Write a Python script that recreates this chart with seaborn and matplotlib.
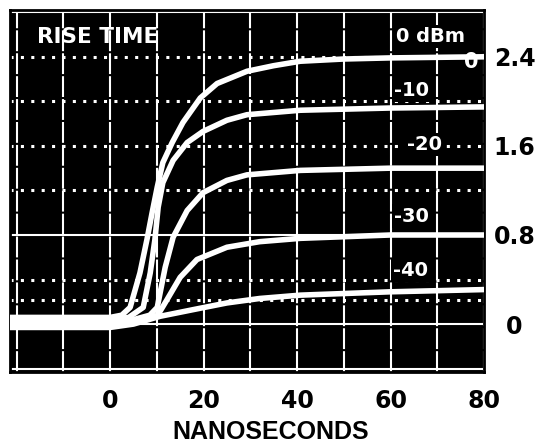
import numpy as np
import pandas as pd
import seaborn as sns
import matplotlib.pyplot as plt

t_0dbm = [-21.4, 0, 2.5, 4.3, 6.4, 7.9, 9.0, 10.1, 11.3, 13.3, 15.6, 19.3, 22.9, 29.3, 35, 40.7, 50, 60, 80]
v_0dbm = [0.06, 0.06, 0.08, 0.15, 0.46, 0.76, 1.00, 1.23, 1.45, 1.63, 1.81, 2.03, 2.16, 2.27, 2.32, 2.36, 2.38, 2.39, 2.40]

t_m10 = [-21.4, 0, 4, 7.1, 8.6, 9.6, 10.3, 11.3, 13.5, 16.5, 19.9, 25, 29.3, 35, 40.7, 60, 80]
v_m10 = [0.04, 0.04, 0.06, 0.15, 0.46, 0.76, 1.05, 1.27, 1.47, 1.63, 1.73, 1.83, 1.88, 1.90, 1.92, 1.94, 1.95]

t_m20 = [-21.4, 0, 5, 8.5, 10.1, 11.8, 13.5, 16.5, 19.9, 25, 29.3, 40.7, 60, 80]
v_m20 = [0.02, 0.02, 0.04, 0.08, 0.15, 0.51, 0.78, 1.02, 1.18, 1.29, 1.34, 1.38, 1.40, 1.40]

t_m30 = [-21.4, 0, 6, 10.2, 12.2, 15, 18.6, 25, 32, 40.7, 60, 80]
v_m30 = [0.0, 0.0, 0.02, 0.08, 0.22, 0.42, 0.58, 0.69, 0.74, 0.77, 0.80, 0.80]

t_m40 = [-21.4, 0, 5, 10.7, 17.8, 25, 32, 40.7, 60, 80]
v_m40 = [-0.03, -0.03, 0.0, 0.07, 0.13, 0.19, 0.23, 0.26, 0.29, 0.31]

niveis = ["0", "-10", "-20", "-30", "-40"]
ref_nivel = [0.22]

x_ticks = [0, 20, 40, 60, 80]
y_ticks = [0, 0.8, 1.6, 2.4]
y_ticklabels = ["0", "0.8", "1.6", "2.4"]

# Montar a tabela longa para o seaborn
series = [(t_0dbm, v_0dbm), (t_m10, v_m10), (t_m20, v_m20), (t_m30, v_m30), (t_m40, v_m40)]
frames = []
for nome, (t, v) in zip(niveis, series):
    frames.append(pd.DataFrame({"ns": t, "v": v, "nivel": nome}))
df = pd.concat(frames, ignore_index=True)

sns.set_style("dark", {"axes.facecolor": "black", "figure.facecolor": "white"})
plt.rcParams['font.family'] = ['DejaVu Sans']

fig = plt.figure(figsize=(5.42, 4.45), dpi=100)
ax = fig.add_axes([10 / 542, 73 / 445, 474 / 542, 362 / 445])
ax.set_xlim(-21.4, 80)
ax.set_ylim(-0.43, 2.82)

# Grelha do ecra
for gx in np.arange(-20, 81, 10):
    ax.axvline(gx, color="white", lw=1.5, dashes=(10, 1), zorder=1)
for gy in np.arange(-0.4, 2.81, 0.4):
    gy = round(gy, 1)
    if gy in (-0.4, 0.0, 0.8, 2.8):
        ax.axhline(gy, color="white", lw=1.5, zorder=1)
    else:
        ax.axhline(gy, color="white", lw=2.2, dashes=(1, 2.4), zorder=1)
for r in ref_nivel:
    ax.axhline(r, color="white", lw=2.2, dashes=(1, 2.4), zorder=1)

sns.lineplot(data=df, x="ns", y="v", hue="nivel", palette=["white"] * 5,
             legend=False, lw=4, ax=ax, zorder=3, sort=False,
             solid_joinstyle="round", solid_capstyle="round")

# Etiquetas das curvas
caixa = dict(facecolor="black", edgecolor="none", pad=1.5)
ax.text(-15.6, 2.58, "RISE TIME", color="white", fontsize=15.5, fontweight="bold",
        va="center", ha="left", zorder=5)
ax.text(68.5, 2.58, "0 dBm", color="white", fontsize=14, fontweight="bold",
        va="center", ha="center", bbox=caixa, zorder=5)
ax.text(77.2, 2.35, "0", color="white", fontsize=15, fontweight="bold",
        va="center", ha="center", zorder=5)
etiquetas = [("-10", 64.5, 2.10), ("-20", 67.2, 1.61), ("-30", 64.5, 0.97), ("-40", 64.2, 0.48)]
for txt, xx, yy in etiquetas:
    ax.text(xx, yy, txt, color="white", fontsize=14, fontweight="bold",
            va="center", ha="center", bbox=caixa, zorder=5)

ax.set_xticks(x_ticks)
ax.set_xticklabels([str(x) for x in x_ticks], fontsize=17, fontweight="bold", color="black")
ax.yaxis.tick_right()
ax.set_yticks(y_ticks)
ax.set_yticklabels(y_ticklabels, fontsize=17, fontweight="bold", ha="center", color="black")
ax.tick_params(axis="x", length=0, pad=12)
ax.tick_params(axis="y", length=0, pad=22)
ax.set_xlabel("")
ax.set_ylabel("")
ax.grid(False)
for s in ax.spines.values():
    s.set_visible(True)
    s.set_color("black")
    s.set_linewidth(2)

fig.text(271 / 542, 1 - 432 / 445, "NANOSECONDS", fontsize=18, fontweight="bold",
         family="Liberation Sans", ha="center", va="center", color="black")

plt.savefig("out.png", dpi=100)
